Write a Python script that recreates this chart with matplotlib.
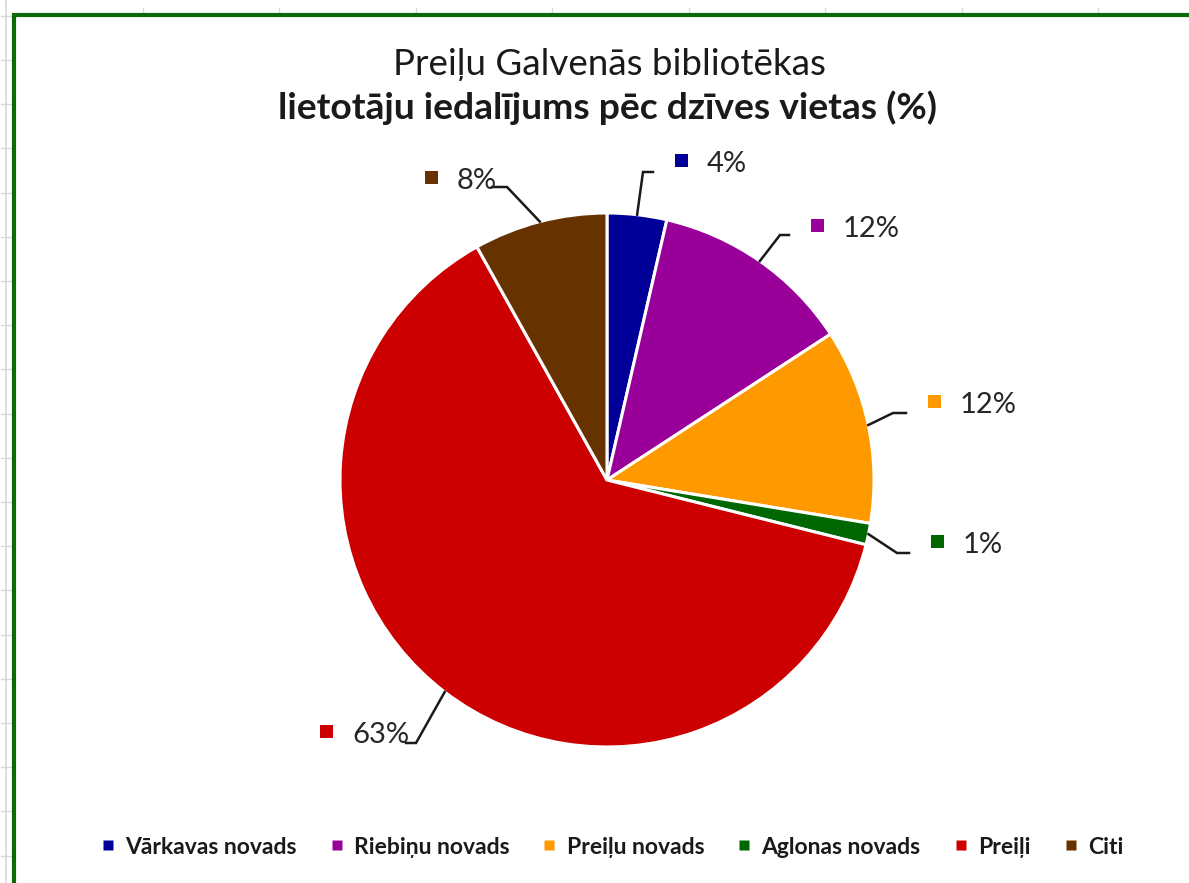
import matplotlib
matplotlib.use("Agg")
import matplotlib.pyplot as plt
from matplotlib.patches import Rectangle
from matplotlib.lines import Line2D
import numpy as np

plt.rcParams['font.family'] = ['Lato', 'DejaVu Sans']

# data
categories = ['Vārkavas novads', 'Riebiņu novads', 'Preiļu novads',
              'Aglonas novads', 'Preiļi', 'Citi']
shares = [3.6, 12.2, 11.8, 1.3, 63.0, 8.1]
colors = ['#000099', '#990099', '#FF9900', '#006600', '#CC0000', '#663300']

# label layout (pixels from top-left): text left/baseline, leader elbow, leader end
label_text = [(707, 172), (843, 237), (960, 413), (963, 553), (352, 743), (457, 189)]
leader_elbow = [(643, 172), (780, 235), (893, 413), (897, 553), (416, 743), (507, 187)]
leader_end = [(653, 172), (789, 235), (906, 413), (909, 553), (406, 743), (492, 187)]

W, H = 1189, 883
cx, cy, R = 607, 480, 267


def py(y):
    return H - y


fig = plt.figure(figsize=(W / 100, H / 100), dpi=100)
ax = fig.add_axes([0, 0, 1, 1])

# spreadsheet grid remnants
grid = '#d9d9d9'
ax.plot([6, 6], [py(0), py(H)], color=grid, lw=1.2)
for yt in np.arange(15.8, H, 44.2):
    ax.plot([1, 12], [py(yt), py(yt)], color=grid, lw=1.0)
for xt in np.arange(142.6, W, 136.5):
    ax.plot([xt, xt], [py(8), py(14)], color=grid, lw=1.0)

# green frame
ax.plot([13.5, 13.5, W + 5], [py(H + 5), py(15), py(15)], color='#0b6b0b',
        lw=3.0, solid_joinstyle='miter')

wedges, _ = ax.pie(shares, colors=colors, startangle=90, counterclock=False,
                   center=(cx, py(cy)), radius=R, frame=True,
                   wedgeprops=dict(edgecolor='white', linewidth=2.2))

cum = np.cumsum(shares) - np.array(shares) / 2
total = sum(shares)
for i, v in enumerate(shares):
    th = np.deg2rad(90 - 360 * cum[i] / total)
    sx, sy = cx + R * np.cos(th), cy - R * np.sin(th)
    ex, ey = leader_elbow[i]
    lx, ly = leader_end[i]
    ax.plot([sx, ex, lx], [py(sy), py(ey), py(ly)], color='#1a1a1a', lw=1.8,
            solid_joinstyle='miter', zorder=5)
    tx, ty = label_text[i]
    ax.text(tx, py(ty), f"{round(v)}%", fontsize=21, color='#262626',
            ha='left', va='baseline', zorder=6)
    ax.add_patch(Rectangle((tx - 26 - 6.5, py(ty - 11.5) - 6.5), 13, 13,
                           facecolor=colors[i], edgecolor='none', zorder=6))

ax.set_xlim(0, W)
ax.set_ylim(0, H)
ax.set_aspect('equal')
ax.axis('off')

fig.text(609 / W, 1 - 75 / H, 'Preiļu Galvenās bibliotēkas', ha='center',
         va='baseline', fontsize=26.5, color='#1a1a1a')
fig.text(608 / W, 1 - 119 / H, 'lietotāju iedalījums pēc dzīves vietas (%)',
         ha='center', va='baseline', fontsize=26.8, fontweight='bold',
         color='#1a1a1a')

handles = [Line2D([], [], marker='s', ls='none', markersize=6.5,
                  markerfacecolor=c, markeredgecolor='none') for c in colors]
fig.legend(handles, categories, loc='center', ncol=6,
           bbox_to_anchor=(612 / W, 1 - 847 / H), frameon=False,
           prop=dict(size=16.5, weight='bold'), handlelength=0.6,
           handletextpad=0.45, columnspacing=1.45, labelcolor='#1a1a1a')

fig.savefig('out.png', dpi=100)
